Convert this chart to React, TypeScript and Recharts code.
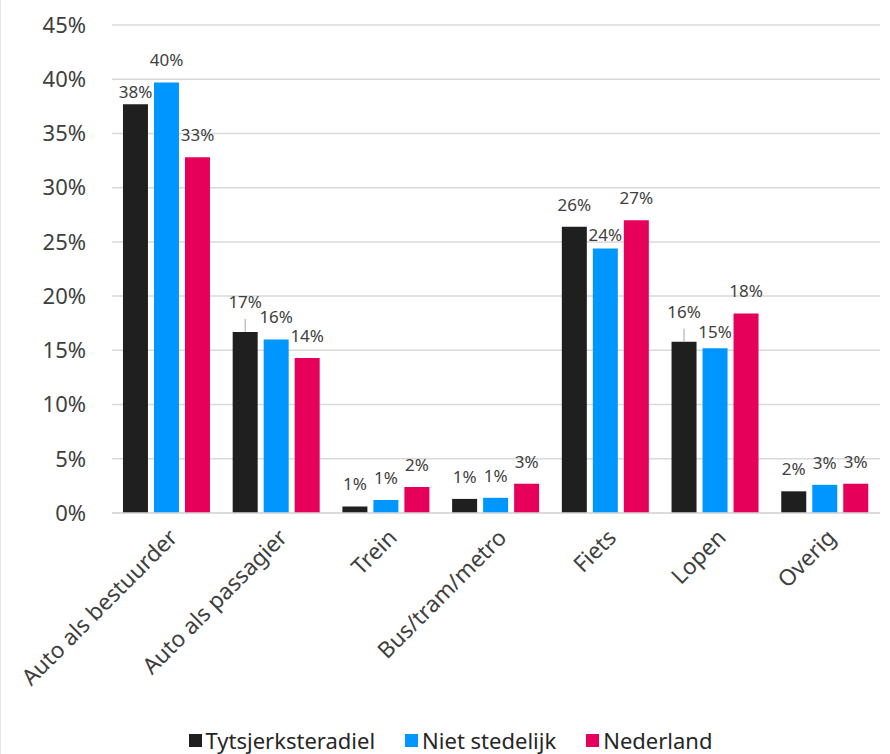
import {
  Bar,
  BarChart,
  CartesianGrid,
  Legend,
  XAxis,
  YAxis,
} from 'recharts';

const categories = [
  'Auto als bestuurder',
  'Auto als passagier',
  'Trein',
  'Bus/tram/metro',
  'Fiets',
  'Lopen',
  'Overig',
];
const tytsjerksteradiel = [37.7, 16.7, 0.6, 1.3, 26.4, 15.8, 2.0];
const nietStedelijk = [39.7, 16.0, 1.2, 1.4, 24.4, 15.2, 2.6];
const nederland = [32.8, 14.3, 2.4, 2.7, 27.0, 18.4, 2.7];
const yTicks = [0, 5, 10, 15, 20, 25, 30, 35, 40, 45];

const seriesKeys = ['tytsjerksteradiel', 'nietStedelijk', 'nederland'];
const seriesNames = ['Tytsjerksteradiel', 'Niet stedelijk', 'Nederland'];
const seriesColors = ['#1F1F1F', '#0096FF', '#E6005A'];

const data = categories.map((name, i) => ({
  name,
  tytsjerksteradiel: tytsjerksteradiel[i],
  nietStedelijk: nietStedelijk[i],
  nederland: nederland[i],
}));

const font = '"Noto Sans", "Open Sans", sans-serif';
const textColor = '#404040';
const gridColor = '#D9D9D9';

// label placement tweaks (baseline distance above bar top, leader line)
const labelLift: Record<string, number[]> = {
  tytsjerksteradiel: [6, 24, 16, 16, 16, 24, 16],
  nietStedelijk: [16, 16, 16, 16, 7, 10, 16],
  nederland: [16, 16, 16, 16, 16, 16, 16],
};
const leaders: Record<string, number[]> = {
  tytsjerksteradiel: [1, 5],
};

function makeLabel(key: string) {
  return (props: any) => {
    const { x, y, width, value, index } = props;
    const cx = x + width / 2;
    const lift = labelLift[key][index];
    const hasLeader = (leaders[key] || []).includes(index);
    return (
      <g>
        {hasLeader && (
          <line x1={cx} x2={cx} y1={y} y2={y - 13} stroke="#A6A6A6" strokeWidth={1} />
        )}
        <text
          x={cx}
          y={y - lift}
          textAnchor="middle"
          fill={textColor}
          fontSize={17}
          fontFamily={font}
        >
          {Math.round(value)}%
        </text>
      </g>
    );
  };
}

function XTick(props: any) {
  const { x, y, payload } = props;
  return (
    <text
      x={x + 12}
      y={y + 18}
      textAnchor="end"
      fill={textColor}
      fontSize={22.5}
      fontFamily={font}
      transform={`rotate(-45, ${x + 12}, ${y + 18})`}
    >
      {payload.value}
    </text>
  );
}

function LegendBox() {
  return (
    <div
      style={{
        display: 'flex',
        justifyContent: 'center',
        gap: 30,
        fontFamily: font,
        fontSize: 22,
        color: '#262626',
        lineHeight: '28px',
        paddingLeft: 20,
      }}
    >
      {seriesNames.map((n, i) => (
        <div key={n} style={{ display: 'flex', alignItems: 'center', gap: 4 }}>
          <span style={{ width: 13, height: 13, background: seriesColors[i], display: 'inline-block' }} />
          <span>{n}</span>
        </div>
      ))}
    </div>
  );
}

export default function App() {
  return (
    <div
      style={{
        position: 'absolute',
        left: 0,
        top: 0,
        width: 890,
        height: 754,
        background: '#FFFFFF',
        boxSizing: 'border-box',
        borderLeft: '1px solid #E6E6E6',
        fontFamily: font,
      }}
    >
      <BarChart
        width={889}
        height={754}
        data={data}
        margin={{ top: 25, right: 10, left: 0, bottom: 0 }}
        barCategoryGap="10%"
        barGap={6}
      >
        <CartesianGrid stroke={gridColor} strokeWidth={1.5} vertical={false} />
        <XAxis
          dataKey="name"
          interval={0}
          tick={<XTick />}
          tickLine={false}
          axisLine={{ stroke: gridColor, strokeWidth: 1.5 }}
          height={213}
        />
        <YAxis
          domain={[0, 45]}
          ticks={yTicks}
          tickFormatter={(v: number) => `${v}%`}
          tick={{ fill: textColor, fontSize: 22, fontFamily: font }}
          axisLine={false}
          tickLine={false}
          width={111}
          tickMargin={20}
        />
        <Legend verticalAlign="bottom" content={<LegendBox />} />
        {seriesKeys.map((k, i) => (
          <Bar
            key={k}
            dataKey={k}
            name={seriesNames[i]}
            fill={seriesColors[i]}
            isAnimationActive={false}
            label={makeLabel(k)}
          />
        ))}
      </BarChart>
    </div>
  );
}
